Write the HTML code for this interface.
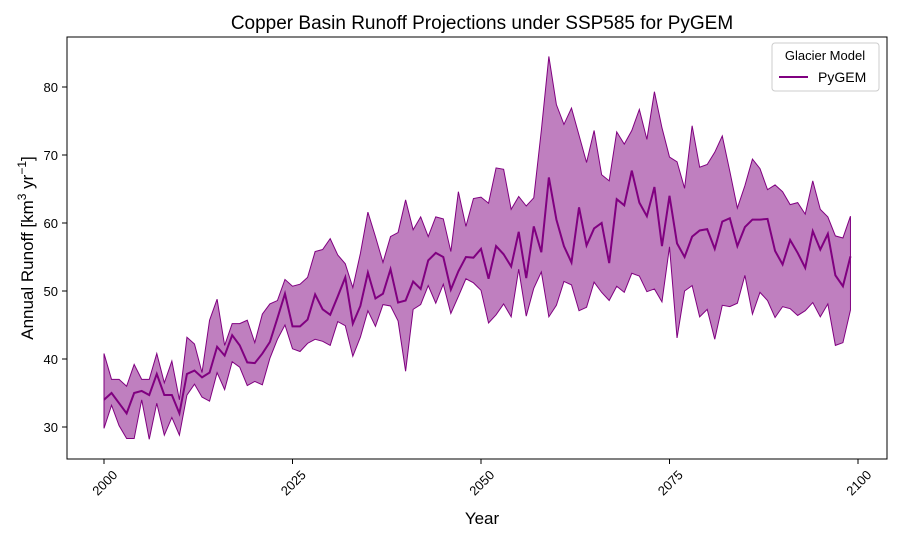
<!DOCTYPE html>
<html><head><meta charset="utf-8"><style>
body{margin:0;background:#fff}
svg{font-family:"Liberation Sans","DejaVu Sans",sans-serif}
</style></head><body>
<svg id="chart" width="900" height="540">
<text x="482" y="29" text-anchor="middle" font-size="19">Copper Basin Runoff Projections under SSP585 for PyGEM</text>
<rect x="67" y="37" width="820" height="422" fill="none" stroke="#000" stroke-width="1"/>
<g id="band"></g>
<g id="line"></g>
<g id="xticks"></g>
<g id="yticks"></g>
<text x="482" y="524" text-anchor="middle" font-size="17">Year</text>
<text transform="translate(33,248) rotate(-90)" text-anchor="middle" font-size="17">Annual Runoff [km<tspan dy="-7" font-size="12">3</tspan><tspan dy="7"> yr</tspan><tspan dy="-7" font-size="12">−1</tspan><tspan dy="7">]</tspan></text>
<g>
<rect x="772" y="43" width="107" height="48" rx="3" fill="#fff" stroke="#ccc"/>
<text x="825" y="60" text-anchor="middle" font-size="13">Glacier Model</text>
<line x1="779" y1="77" x2="808" y2="77" stroke="#800080" stroke-width="2"/>
<text x="818" y="82" font-size="14">PyGEM</text>
</g>
</svg>
<script>
const years=[];for(let y=2000;y<=2099;y++)years.push(y);
const meanVals=[34,35,33.5,32,35,35.3,34.7,37.8,34.7,34.7,32,37.8,38.3,37.3,38,41.8,40.5,43.5,42,39.5,39.4,40.8,42.5,46,49.6,44.8,44.8,45.8,49.5,47.3,46.5,49.2,52,45.2,47.8,52.7,48.9,49.6,53.2,48.3,48.6,51.4,50.3,54.5,55.6,55,50.2,52.9,55,54.9,56.2,51.8,56.6,55.4,53.6,58.7,51.9,59.5,55.7,66.7,60.5,56.6,54.2,62.3,56.7,59.2,60,54.1,63.5,62.6,67.7,63,61,65.3,56.6,64,57,55,58,58.9,59.1,56.2,60.2,60.7,56.6,59.4,60.5,60.5,60.6,55.9,53.9,57.5,55.6,53.4,58.8,56.1,58.4,52.3,50.7,55.1];
const upperVals=[40.8,37,37,36,39.2,37,37,40.8,36.5,39.7,34,43.2,42.2,38,45.7,48.8,42,45.2,45.2,45.7,42.4,46.6,48.1,48.6,51.7,50.7,51,52,55.8,56.1,57.7,55.3,54,50.5,55.5,61.6,58,54.2,58,58.6,63.4,59,60.9,58,60.9,60.6,55.8,64.6,59.5,63.6,63.8,62.9,68.1,67.9,62,63.9,62.5,63.7,73.6,84.5,77.4,74.5,76.9,72.9,68.9,73.6,67.1,66.2,73.4,71.6,73.6,76.7,72.3,79.3,74,69.7,69,65.1,74.3,68.2,68.6,70.4,72.8,67.6,62.2,65.5,69.4,68,64.9,65.6,64.6,62.7,63,61.3,66.2,62,60.9,58.1,57.8,61];
const lowerVals=[29.8,33.2,30.2,28.3,28.3,34,28.2,33.5,28.8,31.4,28.8,34.7,36.3,34.4,33.8,38,35.5,39.6,38.8,36.1,36.7,36.2,40.1,42.9,45,41.5,41.1,42.3,42.9,42.6,42,45.5,44.9,40.4,43.2,47.1,44.8,48,47.8,45.6,38.2,47.3,48,50.8,48.2,51,46.7,49.2,51.8,51.2,50.1,45.3,46.5,48.1,46.2,53.2,46.3,50.4,52.8,46.2,47.9,51.4,50.9,47.1,47.6,51.3,49.8,48.6,50.7,49.8,52.6,52.2,49.9,50.3,48.4,56.5,43.1,50,50.8,46.2,47.3,42.9,47.9,47.7,48.2,52.3,46.6,49.8,48.6,46.1,47.7,47.4,46.4,47.1,48.3,46.2,48.1,42,42.4,47.2];
const xTicks=[2000,2025,2050,2075,2100];
const yTicks=[30,40,50,60,70,80];
const NS="http://www.w3.org/2000/svg";
const xs=y=>104+(y-2000)*(858-104)/100;
const ys=v=>427-(v-30)*6.8;
function mk(t,a,p){const e=document.createElementNS(NS,t);for(const k in a)e.setAttribute(k,a[k]);p.appendChild(e);return e;}
let d="M"+years.map((y,i)=>xs(y)+","+ys(upperVals[i])).join("L");
for(let i=years.length-1;i>=0;i--)d+="L"+xs(years[i])+","+ys(lowerVals[i]);
const band=mk("path",{d:d+"Z",fill:"#800080","fill-opacity":"0.5",stroke:"#800080","stroke-width":"1"},document.getElementById("band"));


const ln=mk("polyline",{points:years.map((y,i)=>xs(y)+","+ys(meanVals[i])).join(" "),fill:"none",stroke:"#800080","stroke-width":"2"},document.getElementById("line"));


const gx=document.getElementById("xticks");
xTicks.forEach(t=>{const x=xs(t);
 mk("line",{x1:x,x2:x,y1:459,y2:464,stroke:"#000"},gx);
 const tx=mk("text",{transform:`translate(${x+4},${486}) rotate(-45)`,"text-anchor":"middle","font-size":"13"},gx);
 tx.textContent=t;
 
 
});
const gy=document.getElementById("yticks");
yTicks.forEach(t=>{const y=ys(t);
 mk("line",{x1:62,x2:67,y1:y,y2:y,stroke:"#000"},gy);
 const tx=mk("text",{x:58,y:y+5,"text-anchor":"end","font-size":"13"},gy);
 tx.textContent=t;
 
 
});
</script>
</body></html>
